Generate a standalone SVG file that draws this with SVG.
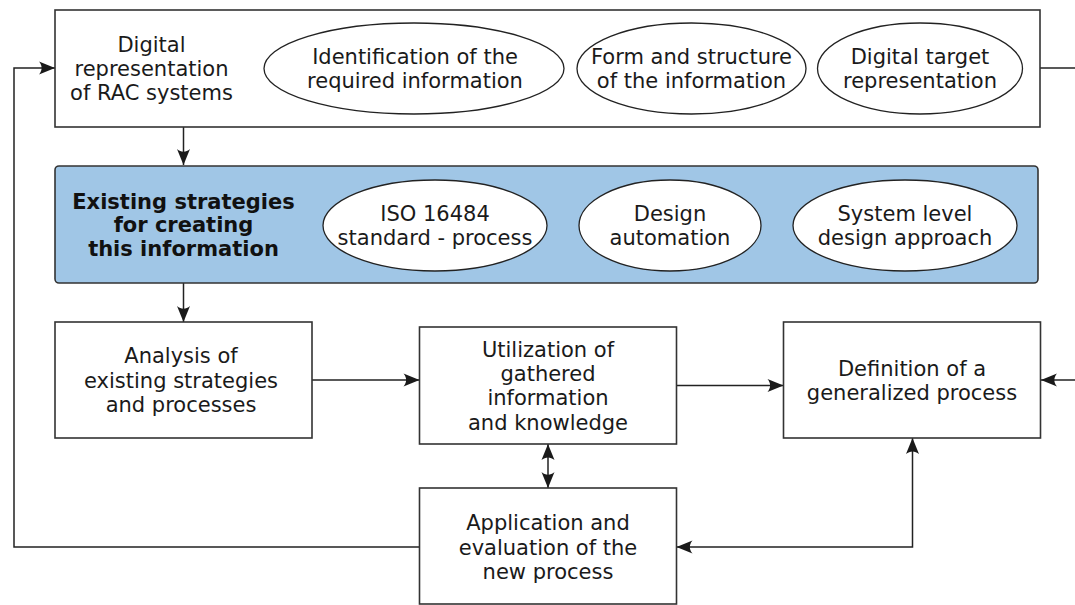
<svg xmlns="http://www.w3.org/2000/svg" width="1075" height="605" viewBox="0 0 1075 605">
  <defs>
    <marker id="arrow" markerUnits="userSpaceOnUse" markerWidth="18" markerHeight="14" refX="16" refY="6.5" orient="auto-start-reverse" overflow="visible">
      <path d="M16,6.5 L0,0 C3.5,4 3.5,9 0,13 Z" fill="#1a1a1a"/>
    </marker>
    <style>
      .box { fill: #ffffff; stroke: #333333; stroke-width: 1.6; }
      .blue { fill: #a0c6e6; stroke: #333333; stroke-width: 1.6; }
      .oval { fill: #ffffff; stroke: #222222; stroke-width: 1.3; }
      .lbl { font-family: "DejaVu Sans", "Liberation Sans", sans-serif; font-size: 21px; fill: #1a1a1a; text-anchor: middle; }
      .bold { font-weight: bold; fill: #111111; }
      .conn { fill: none; stroke: #222222; stroke-width: 1.5; }
    </style>
  </defs>

  <rect width="1075" height="605" fill="#ffffff"/>

  <!-- connectors -->
  <g id="connectors">
    <line class="conn" x1="183.5" y1="127" x2="183.5" y2="165" marker-end="url(#arrow)"/>
    <line class="conn" x1="183.5" y1="283" x2="183.5" y2="322" marker-end="url(#arrow)"/>
    <line class="conn" x1="312" y1="380" x2="419.5" y2="380" marker-end="url(#arrow)"/>
    <line class="conn" x1="676.5" y1="385.5" x2="783.5" y2="385.5" marker-end="url(#arrow)"/>
    <line class="conn" x1="548" y1="444" x2="548" y2="488" marker-start="url(#arrow)" marker-end="url(#arrow)"/>
    <polyline class="conn" points="676.5,547 912.5,547 912.5,438" marker-start="url(#arrow)" marker-end="url(#arrow)"/>
    <polyline class="conn" points="419.5,547 14,547 14,68 55,68" marker-end="url(#arrow)"/>
    <line class="conn" x1="1040" y1="68" x2="1075" y2="68"/>
    <line class="conn" x1="1075" y1="380" x2="1041" y2="380" marker-end="url(#arrow)"/>
  </g>

  <!-- top row: digital representation -->
  <g id="digital-representation">
    <rect class="box" x="55" y="10" width="985" height="117"/>
    <text class="lbl" x="151.5" y="51.5">Digital</text>
    <text class="lbl" x="151.5" y="75.5">representation</text>
    <text class="lbl" x="151.5" y="100">of RAC systems</text>
  </g>
  <g id="identification">
    <ellipse class="oval" cx="414" cy="68.5" rx="150" ry="45.5"/>
    <text class="lbl" x="415" y="64">Identification of the</text>
    <text class="lbl" x="415" y="88">required information</text>
  </g>
  <g id="form-structure">
    <ellipse class="oval" cx="691.5" cy="68.5" rx="114.5" ry="45.5"/>
    <text class="lbl" x="691.5" y="64">Form and structure</text>
    <text class="lbl" x="691.5" y="88">of the information</text>
  </g>
  <g id="digital-target">
    <ellipse class="oval" cx="920" cy="68.5" rx="102.5" ry="45.5"/>
    <text class="lbl" x="920" y="64">Digital target</text>
    <text class="lbl" x="920" y="88">representation</text>
  </g>

  <!-- second row: existing strategies -->
  <g id="existing-strategies">
    <rect class="blue" x="55" y="166" width="983" height="117" rx="4" ry="4"/>
    <text class="lbl bold" x="183.5" y="208.5">Existing strategies</text>
    <text class="lbl bold" x="183.5" y="232">for creating</text>
    <text class="lbl bold" x="183.5" y="256">this information</text>
  </g>
  <g id="iso-16484">
    <ellipse class="oval" cx="435" cy="225.5" rx="112" ry="45.5"/>
    <text class="lbl" x="435" y="220.5">ISO 16484</text>
    <text class="lbl" x="435" y="244.5">standard - process</text>
  </g>
  <g id="design-automation">
    <ellipse class="oval" cx="670" cy="225.5" rx="91" ry="45.5"/>
    <text class="lbl" x="670" y="220.5">Design</text>
    <text class="lbl" x="670" y="244.5">automation</text>
  </g>
  <g id="system-level">
    <ellipse class="oval" cx="905" cy="225.5" rx="112" ry="45.5"/>
    <text class="lbl" x="905" y="220.5">System level</text>
    <text class="lbl" x="905" y="244.5">design approach</text>
  </g>

  <!-- process steps -->
  <g id="analysis">
    <rect class="box" x="55" y="322" width="257" height="116"/>
    <text class="lbl" x="181" y="363">Analysis of</text>
    <text class="lbl" x="181" y="387.5">existing strategies</text>
    <text class="lbl" x="181" y="411.5">and processes</text>
  </g>
  <g id="utilization">
    <rect class="box" x="419.5" y="327" width="257" height="117"/>
    <text class="lbl" x="548" y="356.5">Utilization of</text>
    <text class="lbl" x="548" y="381">gathered</text>
    <text class="lbl" x="548" y="405">information</text>
    <text class="lbl" x="548" y="429.5">and knowledge</text>
  </g>
  <g id="definition">
    <rect class="box" x="783.5" y="322" width="257" height="116"/>
    <text class="lbl" x="912" y="375.5">Definition of a</text>
    <text class="lbl" x="912" y="400">generalized process</text>
  </g>
  <g id="application">
    <rect class="box" x="419.5" y="488" width="257" height="116"/>
    <text class="lbl" x="548" y="530">Application and</text>
    <text class="lbl" x="548" y="554.5">evaluation of the</text>
    <text class="lbl" x="548" y="579">new process</text>
  </g>
</svg>
